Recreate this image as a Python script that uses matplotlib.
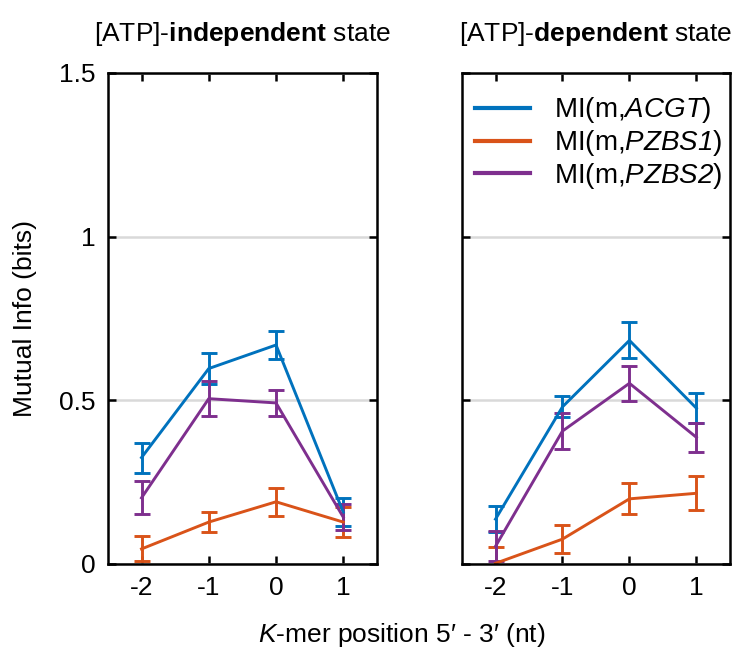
import matplotlib
matplotlib.use("Agg")
import matplotlib.pyplot as plt
import numpy as np

plt.rcParams.update(
    {
        "font.family": ["Liberation Sans", "DejaVu Sans"],
        "font.size": 19,
        "mathtext.fontset": "custom",
        "mathtext.rm": "Liberation Sans",
        "mathtext.it": "Liberation Sans:italic",
        "mathtext.sf": "Liberation Sans:italic",  # italic that also slants digits
        "mathtext.bf": "Liberation Sans:bold",
        "axes.linewidth": 1.8,
        "xtick.direction": "in",
        "ytick.direction": "in",
        "xtick.major.size": 6,
        "ytick.major.size": 6,
        "xtick.major.width": 1.8,
        "ytick.major.width": 1.8,
    }
)

positions = [-2, -1, 0, 1]
series = ["ACGT", "PZBS1", "PZBS2"]
colors = {"ACGT": "#0072BD", "PZBS1": "#D95319", "PZBS2": "#7E2F8E"}

# [ATP]-independent state
indep_mean = {
    "ACGT": [0.325, 0.597, 0.669, 0.158],
    "PZBS1": [0.046, 0.128, 0.190, 0.128],
    "PZBS2": [0.202, 0.505, 0.492, 0.143],
}
indep_err = {
    "ACGT": [0.046, 0.047, 0.042, 0.043],
    "PZBS1": [0.038, 0.030, 0.043, 0.045],
    "PZBS2": [0.050, 0.053, 0.041, 0.040],
}

# [ATP]-dependent state
dep_mean = {
    "ACGT": [0.137, 0.480, 0.683, 0.476],
    "PZBS1": [0.002, 0.076, 0.199, 0.216],
    "PZBS2": [0.054, 0.406, 0.552, 0.387],
}
dep_err = {
    "ACGT": [0.040, 0.032, 0.055, 0.046],
    "PZBS1": [0.050, 0.043, 0.047, 0.052],
    "PZBS2": [0.046, 0.056, 0.054, 0.044],
}

titles = [r"[ATP]-$\mathbf{independent}$ state", r"[ATP]-$\mathbf{dependent}$ state"]
legend_labels = {
    "ACGT": r"MI(m,$\mathsf{ACGT}$)",
    "PZBS1": r"MI(m,$\mathsf{PZBS1}$)",
    "PZBS2": r"MI(m,$\mathsf{PZBS2}$)",
}

fig = plt.figure(figsize=(7.44, 6.53), dpi=100)
ax1 = fig.add_axes([0.145, 0.1363, 0.3616, 0.752])
ax2 = fig.add_axes([0.621, 0.1363, 0.360, 0.752])

for ax, means, errs, title in [
    (ax1, indep_mean, indep_err, titles[0]),
    (ax2, dep_mean, dep_err, titles[1]),
]:
    for s in series:
        ax.errorbar(
            positions,
            means[s],
            yerr=errs[s],
            color=colors[s],
            linewidth=2.1,
            elinewidth=2.1,
            capsize=5.5,
            capthick=2.1,
            label=legend_labels[s],
        )
    ax.set_xlim(-2.5, 1.5)
    ax.set_ylim(0, 1.5)
    ax.set_xticks(positions)
    ax.set_xticklabels([str(p) for p in positions])
    ax.set_yticks([0, 0.5, 1, 1.5])
    ax.tick_params(top=True, right=True, pad=9)
    ax.grid(axis="y", color="#d9d9d9", linewidth=1.8)
    ax.set_axisbelow(True)
    ax.set_title(title, fontsize=19, pad=23)

ax1.set_yticklabels(["0", "0.5", "1", "1.5"])
ax1.set_ylabel("Mutual Info (bits)", labelpad=16)
ax2.set_yticklabels([])

handles, labels = ax2.get_legend_handles_labels()
handles = [h[0] for h in handles]
ax2.legend(
    handles,
    labels,
    loc="upper right",
    bbox_to_anchor=(1.065, 1.005),
    frameon=False,
    handlelength=2.0,
    handletextpad=0.85,
    labelspacing=0.1,
    borderaxespad=0.5,
    fontsize=20,
)
for line in ax2.get_legend().get_lines():
    line.set_linewidth(3)

fig.text(0.54, 0.027, r"$\mathsf{K}$-mer position 5′ - 3′ (nt)", ha="center", va="center", fontsize=19)

fig.savefig("out.png", dpi=100)
